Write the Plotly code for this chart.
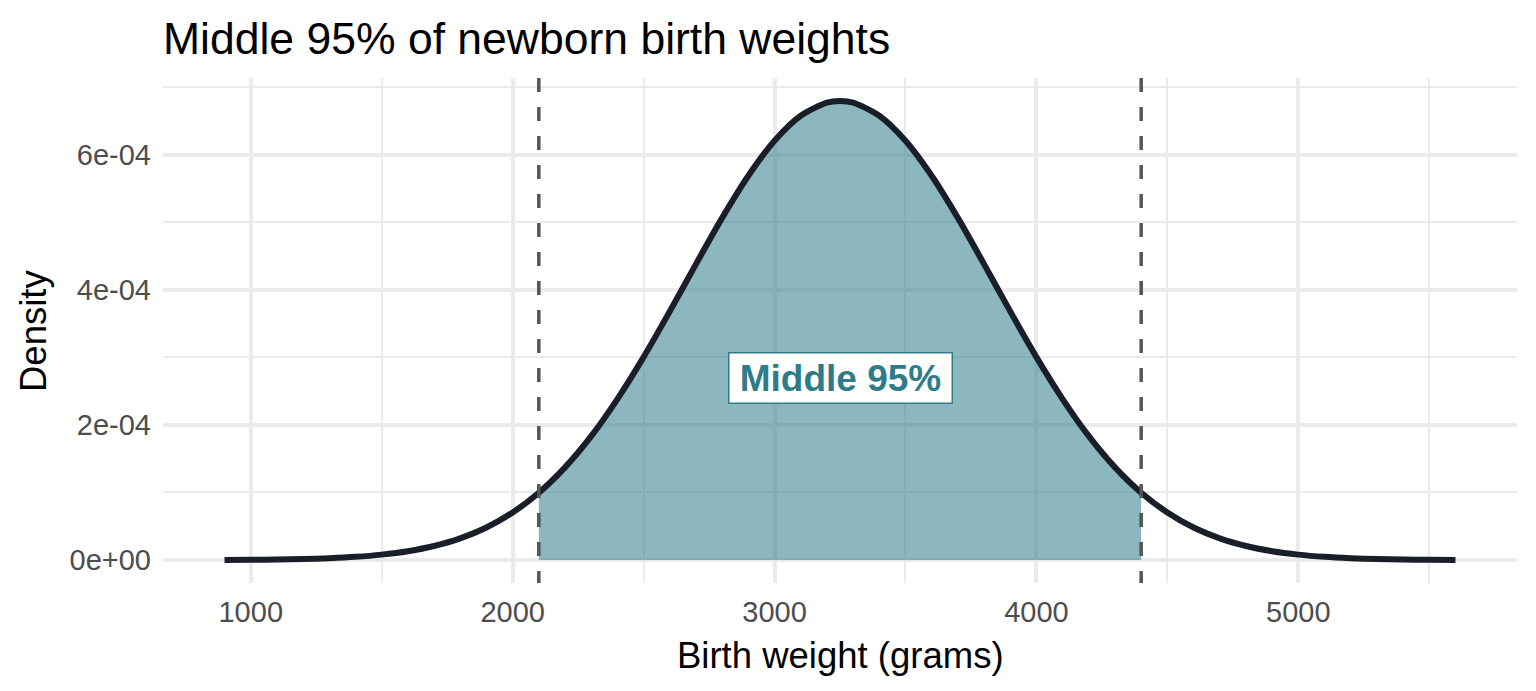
import plotly.graph_objects as go

# birth weight grid (grams) and density (units of 1e-4)
weight = [900, 1000, 1100, 1200, 1300, 1400, 1500, 1600, 1700, 1800, 1900,
          2000, 2100, 2200, 2300, 2400, 2500, 2600, 2700, 2800, 2900, 3000,
          3100, 3200, 3250, 3300, 3400, 3500, 3600, 3700, 3800, 3900, 4000,
          4100, 4200, 4300, 4400, 4500, 4600, 4700, 4800, 4900, 5000, 5100,
          5200, 5300, 5400, 5500, 5600]
density_e4 = [0.002, 0.004, 0.008, 0.015, 0.027, 0.047, 0.080, 0.131, 0.208,
              0.321, 0.482, 0.704, 0.997, 1.372, 1.834, 2.383, 3.004, 3.681,
              4.381, 5.065, 5.689, 6.207, 6.577, 6.771, 6.796, 6.771, 6.577,
              6.207, 5.689, 5.065, 4.381, 3.681, 3.004, 2.383, 1.834, 1.372,
              0.997, 0.704, 0.482, 0.321, 0.208, 0.131, 0.080, 0.047, 0.027,
              0.015, 0.008, 0.004, 0.002]

lower_cut = 2100
upper_cut = 4400
label_text = "Middle 95%"
label_x = 3250
label_y_e4 = 2.7

x_ticks = [1000, 2000, 3000, 4000, 5000]
y_ticks_e4 = [0, 2, 4, 6]
y_tick_labels = ["0e+00", "2e-04", "4e-04", "6e-04"]

teal = "#2E7C8A"
grid = "#EBEBEB"
font = "Liberation Sans, Arial, sans-serif"

# the page body adds an 8px margin, so the figure is a bit smaller than the window
W, H = 1528, 683

density = [d * 1e-4 for d in density_e4]
mid_w = [w for w in weight if lower_cut <= w <= upper_cut]
mid_d = [d for w, d in zip(weight, density) if lower_cut <= w <= upper_cut]

fig = go.Figure()
fig.add_trace(go.Scatter(x=mid_w, y=mid_d, mode="lines", fill="tozeroy",
                         fillcolor="rgba(46,124,138,0.55)",
                         line=dict(width=0, shape="spline"),
                         hoverinfo="skip", showlegend=False))
fig.add_trace(go.Scatter(x=weight, y=density, mode="lines",
                         line=dict(color="#1A1E29", width=6, shape="spline", smoothing=0.8),
                         showlegend=False))

for cut in [lower_cut, upper_cut]:
    fig.add_shape(type="line", xref="x", yref="paper", x0=cut, x1=cut, y0=1, y1=0,
                  line=dict(color="#555555", width=3.5, dash="14px,15px"), layer="above")

fig.add_annotation(x=label_x, y=label_y_e4 * 1e-4, text="<b>" + label_text + "</b>",
                   showarrow=False, font=dict(family=font, size=37, color=teal),
                   width=214, height=41, align="center",
                   bgcolor="white", bordercolor=teal, borderwidth=1.5, borderpad=4)

# axis titles placed by hand, like ggplot does
fig.add_annotation(text="Birth weight (grams)", xref="paper", yref="paper",
                   x=0.5, y=-72 / 505, xanchor="center", yanchor="middle",
                   showarrow=False, font=dict(size=36.5, color="black"))
fig.add_annotation(text="Density", xref="paper", yref="paper", textangle=-90,
                   x=-130 / 1354, y=(575 - 323) / 505, xanchor="center", yanchor="middle",
                   showarrow=False, font=dict(size=36.5, color="black"))

fig.update_layout(
    width=W, height=H,
    margin=dict(l=155, r=19, t=70, b=108),
    paper_bgcolor="white", plot_bgcolor="white",
    font=dict(family=font, color="black"),
    title=dict(text="Middle 95% of newborn birth weights", x=155 / W, xanchor="left",
               xref="container", y=1 - 30 / H, yanchor="middle",
               font=dict(size=44.5, color="black")),
)
fig.update_xaxes(range=[665, 5835], tickvals=x_ticks, showgrid=True, gridcolor=grid,
                 gridwidth=3.5, zeroline=False, showline=False, ticks="", automargin=False,
                 ticklabelstandoff=9,
                 tickfont=dict(size=29, color="#4D4D4D"),
                 minor=dict(dtick=500, tick0=500, showgrid=True, gridcolor=grid, gridwidth=2))
fig.update_yaxes(range=[-0.34e-4, 7.136e-4], tickvals=[v * 1e-4 for v in y_ticks_e4],
                 ticktext=y_tick_labels, showgrid=True, gridcolor=grid, gridwidth=3.5,
                 zeroline=False, showline=False, ticks="", automargin=False,
                 ticklabelstandoff=11,
                 tickfont=dict(size=29, color="#4D4D4D"),
                 minor=dict(dtick=1e-4, tick0=1e-4, showgrid=True, gridcolor=grid, gridwidth=2))

fig.write_html("out.html")
